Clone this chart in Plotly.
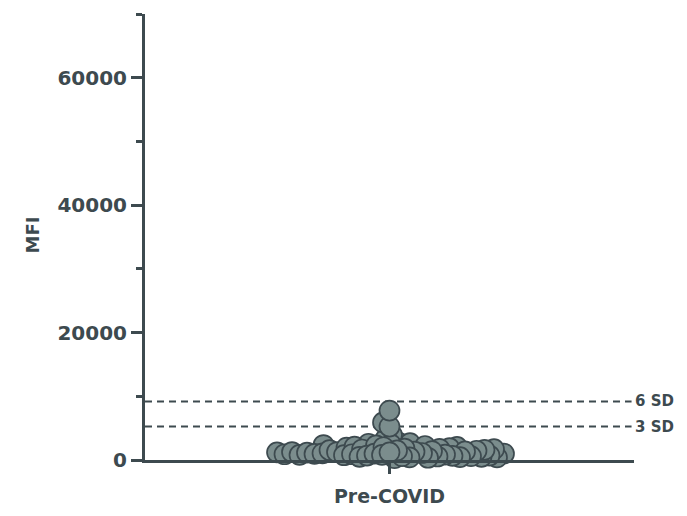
import numpy as np
import plotly.graph_objects as go

# ---- data, in placement order ----
category = ["Pre-COVID"]
mfi_values = [
    7760, 5250, 5900, 1200, 800, 1500, 600, 2000, 1000, 400,
    1800, 700, 1300, 2300, 500, 1100, 1650, 900, 2100, 350,
    1400, 750, 1950, 550, 1250, 2450, 850, 1550, 650, 3300,
    1050, 1750, 450, 2200, 950, 1350, 300, 1850, 1150, 2550,
    600, 1450, 2050, 800, 1600, 500, 1250, 2350, 700, 3950,
    900, 1700, 2650, 400, 1200, 2750, 1000,
]
threshold_values = [9200, 5250]
threshold_labels = ["6 SD", "3 SD"]
y_ticks = [0, 20000, 40000, 60000]
y_ticktext = ["0", "20000", "40000", "60000"]

# ---- layout constants (page has an 8px body margin) ----
OFF = 8
W, H = 687 - OFF, 516 - OFF
ML, MR, MT, MB = 145 - OFF, 53, 14 - OFF, 56
YMAX = 70000
XR = (-1, 1)
plot_w = W - ML - MR
plot_h = H - MT - MB
ink = "#3d4a4f"
fill = "#7b8d8d"
FONT = "DejaVu Sans, Arial, sans-serif"

# ---- swarm layout computed in pixel space, points placed in list order ----
vals = np.array(mfi_values, dtype=float)
py = vals / YMAX * plot_h
dmin = 7.6
placed_x, placed_y = [], []
xs = np.zeros(len(vals))
for i in range(len(vals)):
    best = None
    step = 0
    while best is None:
        for sgn in ((1,) if step == 0 else (-1, 1)):
            cx = sgn * step * 0.5
            ok = all((cx - a) ** 2 + (py[i] - b) ** 2 >= dmin ** 2
                     for a, b in zip(placed_x, placed_y))
            if ok:
                best = cx
                break
        step += 1
    xs[i] = best
    placed_x.append(best)
    placed_y.append(py[i])
x_data = xs / plot_w * (XR[1] - XR[0])

# draw outer (later placed) points first so central ones sit on top
fig = go.Figure()
fig.add_trace(go.Scatter(
    x=x_data[::-1], y=vals[::-1], mode="markers",
    marker=dict(size=20, color=fill, line=dict(color=ink, width=1.7)),
    cliponaxis=False, showlegend=False, hoverinfo="y",
))

for v, lab in zip(threshold_values, threshold_labels):
    fig.add_shape(type="line", xref="x", yref="y", x0=XR[0], x1=XR[1] - 0.01,
                  y0=v, y1=v, line=dict(color=ink, width=2, dash="7px,5px"), layer="below")
    fig.add_annotation(x=XR[1], y=v, xref="x", yref="y", text=lab, showarrow=False,
                       xanchor="left", xshift=-1, font=dict(family=FONT, size=15, color=ink, weight="bold"))

fig.add_annotation(x=0, xref="paper", y=0.5, yref="paper", text="MFI", textangle=-90,
                   showarrow=False, xshift=-126, yshift=2,
                   font=dict(family=FONT, size=18, color=ink, weight="bold"))

fig.update_layout(
    width=W, height=H, margin=dict(l=ML, r=MR, t=MT, b=MB),
    paper_bgcolor="white", plot_bgcolor="white",
    font=dict(family=FONT, color=ink),
    xaxis=dict(range=list(XR), tickvals=[0], ticktext=category, showgrid=False, zeroline=False,
               showline=True, linecolor=ink, linewidth=3, ticks="outside", ticklen=11,
               tickwidth=3, tickcolor=ink, ticklabelstandoff=6,
               tickfont=dict(family=FONT, size=19, color=ink, weight="bold")),
    yaxis=dict(range=[0, YMAX], tickvals=y_ticks, ticktext=y_ticktext, showgrid=False, zeroline=False,
               showline=True, linecolor=ink, linewidth=3, ticks="outside", ticklen=11,
               tickwidth=3, tickcolor=ink,
               minor=dict(tickvals=[10000, 30000, 50000, 70000], ticks="outside", ticklen=6, tickwidth=3, tickcolor=ink),
               tickfont=dict(family=FONT, size=20, color=ink, weight="bold")),
)
fig.write_html("out.html")
